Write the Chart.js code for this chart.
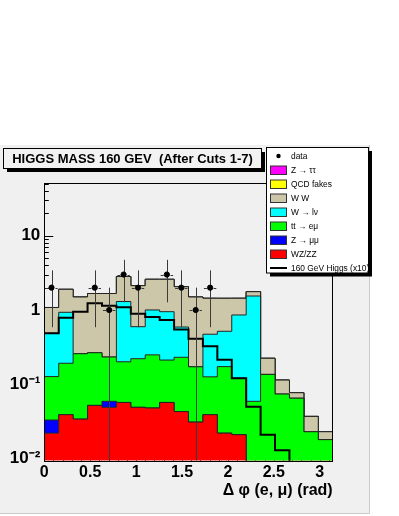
<!DOCTYPE html>
<html>
<head>
<meta charset="utf-8">
<script src="https://cdn.jsdelivr.net/npm/chart.js@4.4.0/dist/chart.umd.min.js"></script>
<style>
  html, body { margin: 0; padding: 0; background: #fff; }
  #wrap { width: 399px; height: 516px; }
</style>
</head>
<body>
<div id="wrap"><canvas id="higgs-chart" width="399" height="516"></canvas></div>
<script>
// delta phi histogram, 20 bins between 0 and pi
let nBins = 20;
let xMax = Math.PI;
let binWidth = xMax / nBins;

// background expectations, per bin (stacked bottom to top)
let wzzz    = [0.022, 0.039, 0.034, 0.052, 0.049, 0.057, 0.049, 0.048, 0.057, 0.043, 0.031, 0.039, 0.022, 0.021, 0, 0, 0, 0, 0, 0];
let zmumu   = [0.011, 0, 0, 0, 0.010, 0, 0, 0, 0, 0, 0, 0, 0, 0, 0, 0, 0, 0, 0, 0];
let ttbar   = [0.094, 0.153, 0.224, 0.214, 0.174, 0.144, 0.172, 0.201, 0.155, 0.188, 0.141, 0.087, 0.151, 0.100, 0.059, 0.136, 0.074, 0.065, 0.023, 0.018];
let wjets   = [0.359, 0.739, 0, 0, 0, 1.10, 0.375, 0.752, 0.737, 0.359, 0, 0.346, 0.344, 0.736, 1.484, 0, 0, 0, 0, 0];
let ww      = [0.595, 0.968, 1.238, 1.401, 1.434, 1.523, 1.527, 1.589, 1.640, 1.469, 1.324, 0.966, 0.920, 0.581, 0.220, 0.088, 0.040, 0.012, 0.014, 0.005];
let qcd     = [0, 0, 0, 0, 0, 0, 0, 0, 0, 0, 0, 0, 0, 0, 0, 0, 0, 0, 0, 0];
let ztautau = [0, 0, 0, 0, 0, 0, 0, 0, 0, 0, 0, 0, 0, 0, 0, 0, 0, 0, 0, 0];

// signal scaled by 10, drawn as a line
let higgsX10 = [0.486, 0.788, 0.949, 1.231, 1.143, 1.087, 0.892, 0.805, 0.734, 0.546, 0.411, 0.325, 0.214, 0.121, 0.050, 0.021, 0.013, 0, 0, 0];

// observed events
let dataCounts = [2, 0, 0, 2, 1, 3, 2, 0, 3, 2, 1, 2, 0, 0, 0, 0, 0, 0, 0, 0];

let xTicks = [0, 0.5, 1, 1.5, 2, 2.5, 3];
let xTickLabels = ['0', '0.5', '1', '1.5', '2', '2.5', '3'];
let yTicks = [0.01, 0.1, 1, 10];
let yTickLabels = ['10\u207B\u00B2', '10\u207B\u00B9', '1', '10'];

let chartTitle = 'HIGGS MASS 160 GEV  (After Cuts 1-7)';
let xAxisTitle = '\u0394 \u03C6 (e, \u03BC) (rad)';

let yMin = 0.00937;
let yMax = 51.2;
let floorValue = 1e-4; // empty bins fall below the axis

let fontFamily = '"Liberation Sans", Arial, Helvetica, sans-serif';

let stackSeries = [
    {label: 'WZ/ZZ', values: wzzz, color: '#ff0000'},
    {label: 'Z \u2192 \u03BC\u03BC', values: zmumu, color: '#0000ff'},
    {label: 'tt \u2192 e\u03BC', values: ttbar, color: '#00ff00'},
    {label: 'W \u2192 l\u03BD', values: wjets, color: '#00ffff'},
    {label: 'W W', values: ww, color: '#cdc7a9'},
    {label: 'QCD fakes', values: qcd, color: '#ffff00'},
    {label: 'Z \u2192 \u03C4\u03C4', values: ztautau, color: '#ff00ff'}
];

function stepPoints(values) {
    let points = values.map((v, i) => ({x: i * binWidth, y: v > 0 ? v : floorValue}));
    points.push({x: xMax, y: points[points.length - 1].y});
    return points;
}

function buildStackDatasets() {
    let running = new Array(nBins).fill(0);
    return stackSeries.map((s, k) => {
        running = running.map((r, i) => r + s.values[i]);
        return {
            type: 'line',
            label: s.label,
            data: stepPoints(running),
            stepped: true,
            borderColor: '#222',
            borderWidth: 1,
            backgroundColor: s.color,
            fill: k === 0 ? 'start' : '-1',
            pointRadius: 0,
            tension: 0
        };
    });
}

let dataPoints = dataCounts.map((n, i) => ({x: (i + 0.5) * binWidth, y: n > 0 ? n : null}));

let datasets = [
    {
        type: 'scatter',
        label: 'data',
        data: dataPoints,
        pointRadius: 2.6,
        pointBackgroundColor: '#000',
        pointBorderColor: '#000',
        showLine: false
    },
    {
        type: 'line',
        label: '160 GeV Higgs (x10)',
        data: stepPoints(higgsX10),
        stepped: true,
        borderColor: '#000',
        borderWidth: 2,
        fill: false,
        pointRadius: 0,
        tension: 0
    }
].concat(buildStackDatasets());

// ROOT like frame, inner tick marks and error bars
let rootFrame = {
    id: 'rootFrame',
    beforeDraw(chart) {
        let ctx = chart.ctx;
        ctx.save();
        ctx.fillStyle = '#fff';
        ctx.fillRect(0, 0, chart.width, chart.height);
        ctx.fillStyle = '#f0f0f0';
        ctx.fillRect(0, 145, 369, 368);
        ctx.strokeStyle = '#c8c8c8';
        ctx.lineWidth = 1;
        ctx.beginPath();
        ctx.moveTo(369.5, 145);
        ctx.lineTo(369.5, 513.5);
        ctx.lineTo(0, 513.5);
        ctx.stroke();
        ctx.restore();
    },
    beforeDatasetsDraw(chart) {
        let {ctx, chartArea: a, scales: {x, y}} = chart;
        ctx.save();
        ctx.strokeStyle = '#000';
        ctx.lineWidth = 1;
        ctx.beginPath();
        for (let k = -3; k <= 2; k++) {
            for (let m = 1; m <= 9; m++) {
                let v = m * Math.pow(10, k);
                if (v < y.min || v > y.max) continue;
                let py = Math.round(y.getPixelForValue(v)) + 0.5;
                let len = m === 1 ? 9 : 4.5;
                ctx.moveTo(a.left, py);
                ctx.lineTo(a.left + len, py);
            }
        }
        for (let t = 0; t <= 31; t++) {
            let px = Math.round(x.getPixelForValue(t * 0.1)) + 0.5;
            let len = t % 5 === 0 ? 9 : 4.5;
            ctx.moveTo(px, a.bottom);
            ctx.lineTo(px, a.bottom - len);
        }
        ctx.stroke();
        ctx.restore();
    },
    beforeDatasetDraw(chart, args) {
        if (args.index !== 0) return;
        let {ctx, chartArea: a, scales: {x, y}} = chart;
        ctx.save();
        ctx.beginPath();
        ctx.rect(a.left, a.top, a.right - a.left, a.bottom - a.top);
        ctx.clip();
        ctx.strokeStyle = '#3a3a3a';
        ctx.lineWidth = 1;
        dataCounts.forEach((n, i) => {
            if (!n) return;
            let cx = Math.round(x.getPixelForValue((i + 0.5) * binWidth)) + 0.5;
            let cy = Math.round(y.getPixelForValue(n)) + 0.5;
            let err = Math.sqrt(n);
            let top = y.getPixelForValue(n + err);
            let bottom = n - err > 0 ? y.getPixelForValue(n - err) : a.bottom;
            ctx.setLineDash([]);
            ctx.beginPath();
            ctx.moveTo(cx, top);
            ctx.lineTo(cx, bottom);
            ctx.stroke();
            let left = x.getPixelForValue(i * binWidth);
            let right = x.getPixelForValue((i + 1) * binWidth);
            ctx.setLineDash([3, 2]);
            ctx.beginPath();
            ctx.moveTo(left + 1, cy);
            ctx.lineTo(cx - 3, cy);
            ctx.moveTo(cx + 3, cy);
            ctx.lineTo(right - 1, cy);
            ctx.stroke();
        });
        ctx.restore();
    },
    afterDatasetsDraw(chart) {
        let {ctx, chartArea: a} = chart;
        ctx.save();
        ctx.strokeStyle = '#000';
        ctx.lineWidth = 1;
        ctx.strokeRect(Math.round(a.left) + 0.5, Math.round(a.top) + 0.5,
            Math.round(a.right - a.left), Math.round(a.bottom - a.top));
        ctx.restore();
    },
    afterDraw(chart) {
        let ctx = chart.ctx;
        ctx.save();
        // title box
        ctx.fillStyle = '#000';
        ctx.fillRect(7, 152, 258, 20);
        ctx.fillStyle = '#f2f2f2';
        ctx.fillRect(3.5, 148.5, 258, 20);
        ctx.strokeStyle = '#000';
        ctx.lineWidth = 1;
        ctx.strokeRect(3.5, 148.5, 258, 20);
        ctx.fillStyle = '#000';
        ctx.font = 'bold 13px ' + fontFamily;
        ctx.textAlign = 'center';
        ctx.textBaseline = 'middle';
        ctx.fillText(chartTitle, 132.5, 159);

        // legend box
        let lx = 266.5, ly = 147.5, lw = 102, lh = 125.5;
        ctx.fillStyle = '#000';
        ctx.fillRect(lx + 3.5, ly + 3.5, lw, lh);
        ctx.fillStyle = '#fff';
        ctx.fillRect(lx, ly, lw, lh);
        ctx.strokeRect(lx, ly, lw, lh);
        ctx.beginPath();
        ctx.rect(lx, ly, lw, lh);
        ctx.clip();

        let entries = [{label: 'data', kind: 'marker'}];
        stackSeries.slice().reverse().forEach(s => entries.push({label: s.label, kind: 'box', color: s.color}));
        entries.push({label: '160 GeV Higgs (x10)', kind: 'line'});

        ctx.font = '8.4px ' + fontFamily;
        ctx.textAlign = 'left';
        entries.forEach((e, i) => {
            let ry = 156 + i * 14;
            if (e.kind === 'marker') {
                ctx.fillStyle = '#000';
                ctx.beginPath();
                ctx.arc(278.5, ry, 2.2, 0, Math.PI * 2);
                ctx.fill();
            } else if (e.kind === 'box') {
                ctx.fillStyle = e.color;
                ctx.fillRect(270.5, ry - 4, 16, 8.5);
                ctx.strokeStyle = '#333';
                ctx.strokeRect(270.5, ry - 4, 16, 8.5);
            } else {
                ctx.strokeStyle = '#000';
                ctx.lineWidth = 2;
                ctx.beginPath();
                ctx.moveTo(270, ry);
                ctx.lineTo(287, ry);
                ctx.stroke();
                ctx.lineWidth = 1;
            }
            ctx.fillStyle = '#000';
            ctx.fillText(e.label, 291, ry + 0.5);
        });
        ctx.restore();
    }
};

Chart.defaults.font.family = fontFamily;
Chart.defaults.color = '#000';

let canvas = document.getElementById('higgs-chart').getContext('2d');

let chart = new Chart(canvas, {
    type: 'line',
    data: {datasets: datasets},
    options: {
        responsive: false,
        devicePixelRatio: 1,
        animation: false,
        events: [],
        layout: {
            padding: {top: 183, left: 0, right: 66.3, bottom: 0}
        },
        plugins: {
            legend: {display: false},
            tooltip: {enabled: false}
        },
        scales: {
            x: {
                type: 'linear',
                min: 0,
                max: xMax,
                afterFit: scale => { scale.height = 55.3; },
                afterBuildTicks: scale => { scale.ticks = xTicks.map(v => ({value: v})); },
                grid: {display: false, drawTicks: false},
                border: {display: false},
                ticks: {
                    autoSkip: false,
                    maxRotation: 0,
                    padding: 2,
                    font: {size: 16, weight: 'bold'},
                    callback: v => xTickLabels[xTicks.indexOf(v)]
                },
                title: {
                    display: true,
                    text: xAxisTitle,
                    align: 'end',
                    font: {size: 16, weight: 'bold'},
                    padding: {top: 0, bottom: 16}
                }
            },
            y: {
                type: 'logarithmic',
                min: yMin,
                max: yMax,
                afterFit: scale => { scale.width = 44.3; },
                afterBuildTicks: scale => { scale.ticks = yTicks.map(v => ({value: v})); },
                grid: {display: false, drawTicks: false},
                border: {display: false},
                ticks: {
                    autoSkip: false,
                    padding: 4,
                    font: {size: 17, weight: 'bold'},
                    callback: v => yTickLabels[yTicks.indexOf(v)]
                }
            }
        }
    },
    plugins: [rootFrame]
});
</script>
</body>
</html>
